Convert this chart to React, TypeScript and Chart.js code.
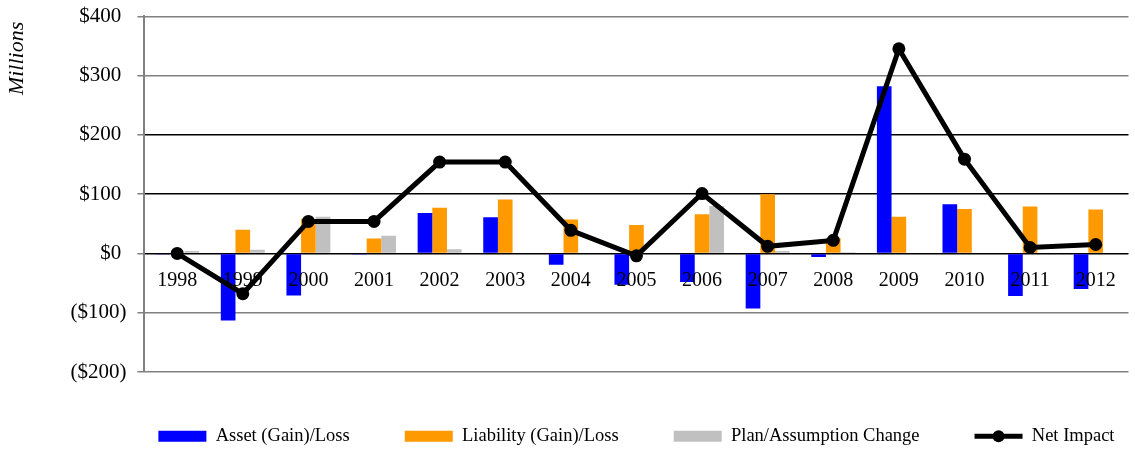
import React, { useEffect, useRef } from 'react';
import { Chart, registerables } from 'chart.js';

Chart.register(...registerables);

const years = ['1998', '1999', '2000', '2001', '2002', '2003', '2004', '2005', '2006', '2007', '2008', '2009', '2010', '2011', '2012'];
const assetGainLoss = [-2, -113, -71, -2, 68, 61, -19, -53, -48, -93, -6, 282, 83, -72, -60];
const liabilityGainLoss = [0, 40, 58, 25, 77, 91, 57, 48, 66, 100, 26, 62, 75, 79, 74];
const planAssumptionChange = [4, 6, 62, 30, 7, 0, 0, 0, 80, 4, 2, 0, 0, 1, 0];
const netImpact = [0, -68, 54, 54, 154, 154, 39, -4, 101, 12, 22, 345, 159, 10, 15];

const yTickValues = [-200, -100, 0, 100, 200, 300, 400];
const yTickLabels = ['($200)', '($100)', '$0 ', '$100 ', '$200 ', '$300 ', '$400 '];

const seriesNames = ['Asset (Gain)/Loss', 'Liability (Gain)/Loss', 'Plan/Assumption Change', 'Net Impact'];

const FONT = "'Liberation Serif', 'Times New Roman', serif";

// Centre the bottom legend on the plot area and add the marker dot to the line legend item.
const legendHelper = {
  id: 'legendHelper',
  afterLayout(chart: any) {
    const legend = chart.legend;
    const area = chart.chartArea;
    if (!legend || !area) return;
    const shift = (area.left + area.right) / 2 - (legend.left + legend.right) / 2;
    legend.left += shift;
    legend.right += shift;
  },
  afterDraw(chart: any) {
    const legend = chart.legend;
    if (!legend || !legend.legendHitBoxes || !legend.legendItems) return;
    const idx = legend.legendItems.findIndex((it: any) => it.datasetIndex === 3);
    if (idx < 0) return;
    const box = legend.legendHitBoxes[idx];
    const bw = legend.options.labels.pointStyleWidth;
    const ctx = chart.ctx;
    ctx.save();
    ctx.fillStyle = '#000000';
    ctx.beginPath();
    ctx.arc(box.left + bw / 2, box.top + box.height / 2, 6, 0, Math.PI * 2);
    ctx.fill();
    ctx.restore();
  },
};

export default function App() {
  const canvasRef = useRef<HTMLCanvasElement | null>(null);

  useEffect(() => {
    const canvas = canvasRef.current;
    if (!canvas) return;
    const chart = new Chart(canvas, {
      type: 'bar',
      data: {
        labels: years,
        datasets: [
          {
            type: 'bar',
            label: seriesNames[0],
            data: assetGainLoss,
            backgroundColor: '#0000FF',
            borderWidth: 0,
          },
          {
            type: 'bar',
            label: seriesNames[1],
            data: liabilityGainLoss,
            backgroundColor: '#FF9900',
            borderWidth: 0,
          },
          {
            type: 'bar',
            label: seriesNames[2],
            data: planAssumptionChange,
            backgroundColor: '#C0C0C0',
            borderWidth: 0,
          },
          {
            type: 'line',
            label: seriesNames[3],
            data: netImpact,
            borderColor: '#000000',
            backgroundColor: '#000000',
            borderWidth: 5,
            pointRadius: 6.5,
            pointBackgroundColor: '#000000',
            pointBorderWidth: 0,
            tension: 0,
            order: -1,
          } as any,
        ],
      },
      options: {
        animation: false,
        responsive: false,
        maintainAspectRatio: false,
        datasets: {
          bar: { categoryPercentage: 0.67, barPercentage: 1 },
        },
        layout: { padding: { left: 0, right: 0, top: 0, bottom: 0 } },
        plugins: {
          tooltip: { enabled: false },
          legend: {
            position: 'bottom',
            maxHeight: 77,
            labels: {
              usePointStyle: true,
              pointStyleWidth: 48,
              boxHeight: 11,
              padding: 55,
              color: '#000000',
              font: { family: FONT, size: 18.5 },
              generateLabels(chart: any) {
                const items = (Chart.defaults.plugins.legend.labels as any).generateLabels(chart);
                return items
                  .sort((a: any, b: any) => a.datasetIndex - b.datasetIndex)
                  .map((it: any) =>
                    it.datasetIndex === 3
                      ? { ...it, pointStyle: 'line', lineWidth: 5, strokeStyle: '#000000', fillStyle: '#000000' }
                      : { ...it, pointStyle: 'rect', lineWidth: 0 }
                  );
              },
            },
          },
        },
        scales: {
          x: {
            type: 'category',
            position: { y: 0 } as any,
            grid: { display: false, drawTicks: false },
            border: { display: false },
            ticks: {
              z: 1,
              color: '#000000',
              font: { family: FONT, size: 20 },
              padding: 15,
              maxRotation: 0,
              autoSkip: false,
            },
          },
          y: {
            type: 'linear',
            min: -200,
            max: 400,
            border: { display: true, color: '#808080', width: 2 },
            grid: {
              color: (ctx: any) => {
                const v = ctx.tick ? ctx.tick.value : 0;
                return v >= 0 && v <= 200 ? '#000000' : '#808080';
              },
              lineWidth: 1.5,
              tickColor: '#808080',
              tickLength: 7,
              drawTicks: true,
            },
            title: {
              display: true,
              text: 'Millions ',
              align: 'end',
              color: '#000000',
              font: { family: FONT, size: 22, style: 'italic' },
              padding: { top: 4, bottom: 29 },
            },
            ticks: {
              stepSize: 100,
              color: '#000000',
              font: { family: FONT, size: 21, lineHeight: 0.5 },
              padding: 11,
              callback: (value: any) => {
                const i = yTickValues.indexOf(Number(value));
                return i >= 0 ? yTickLabels[i] : '';
              },
            },
          },
        },
      },
      plugins: [legendHelper],
    });
    return () => chart.destroy();
  }, []);

  return (
    <div style={{ position: 'absolute', left: 0, top: 0, width: 1135, height: 449, background: '#ffffff' }}>
      <canvas ref={canvasRef} width={1135} height={449} style={{ display: 'block' }} />
    </div>
  );
}
